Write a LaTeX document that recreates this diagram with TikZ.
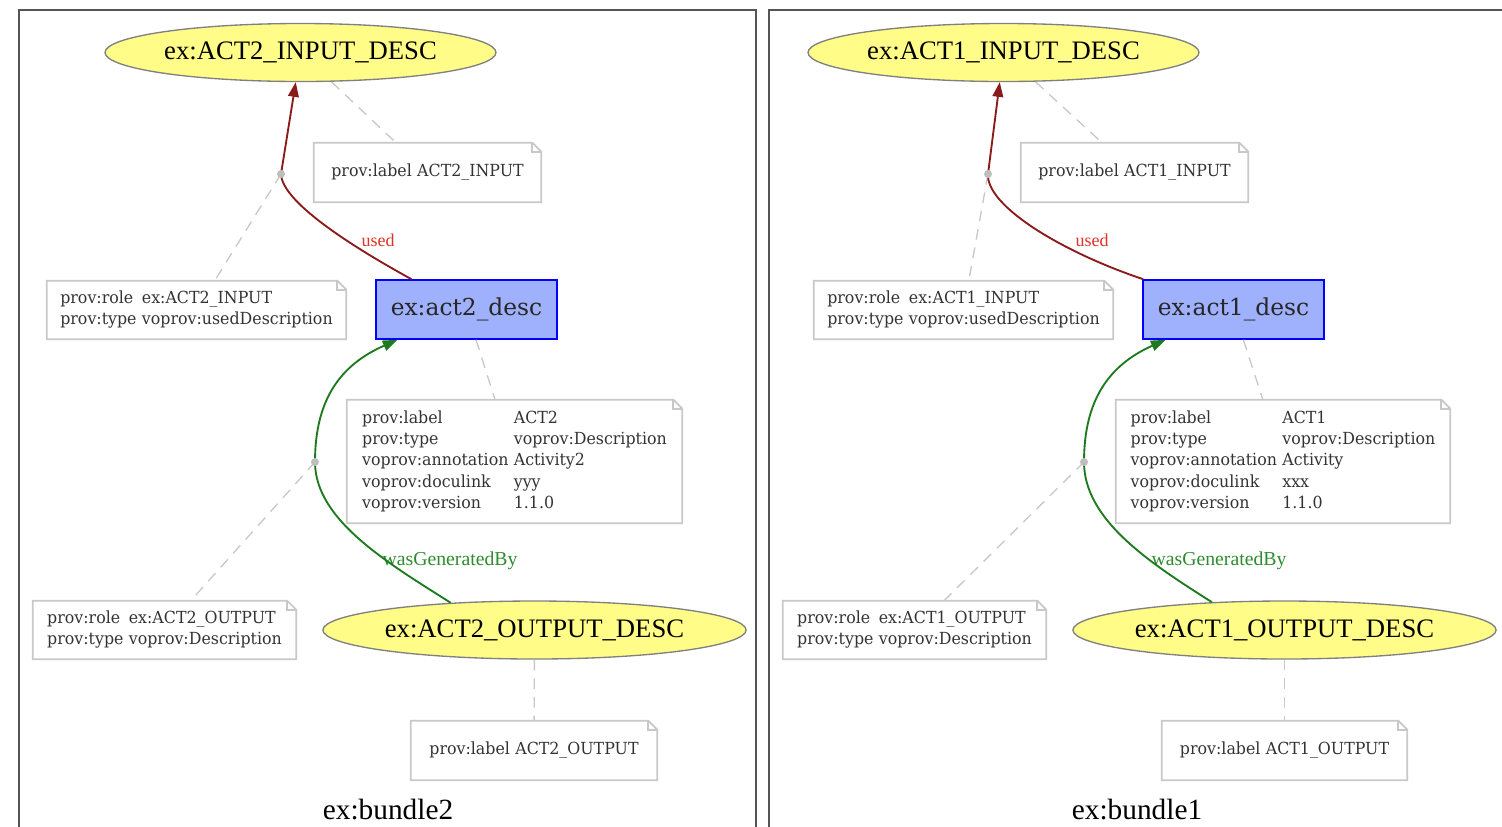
\documentclass[tikz,border=0pt]{standalone}
\usepackage{fontspec}
\setmainfont{Liberation Serif}
\newfontfamily\slabfont{DejaVu Serif}[FakeStretch=0.95]
\newfontfamily\slabwide{DejaVu Serif}
\usetikzlibrary{shapes.geometric, arrows.meta, calc}

\definecolor{entfill}{HTML}{FFFC87}
\definecolor{entline}{HTML}{808080}
\definecolor{actfill}{HTML}{9FB1FC}
\definecolor{actline}{HTML}{0000FF}
\definecolor{notetext}{HTML}{333333}
\definecolor{noteline}{HTML}{C8C8C8}
\definecolor{dashgray}{HTML}{C8C8C8}
\definecolor{dotgray}{HTML}{BEBEBE}
\definecolor{usedcol}{HTML}{8B1A1A}
\definecolor{usedlab}{HTML}{E0302A}
\definecolor{gencol}{HTML}{1E7A1E}
\definecolor{genlab}{HTML}{2E8B2E}
\definecolor{framecol}{HTML}{555555}

\tikzset{
  sz/.style 2 args={minimum width=#1*0.75pt, minimum height=#2*0.75pt},
  entity/.style={ellipse, draw=entline, fill=entfill, line width=1pt,
    inner sep=0pt, font=\fontsize{20}{24}\selectfont},
  activity/.style={rectangle, draw=actline, fill=actfill, line width=1.2pt,
    inner sep=0pt, text=black!85, font=\slabwide\fontsize{17.5}{20}\selectfont},
  annot/.style={rectangle, inner sep=0pt, text=notetext,
    font=\slabfont\fontsize{12.5}{16}\selectfont},
  noteframe/.style={draw=noteline, line width=1.3pt, line join=miter},
  annotlink/.style={draw=dashgray, line width=1pt, dash pattern=on 8pt off 6pt},
  usededge/.style={draw=usedcol, line width=1.4pt, -{Triangle[length=11pt,width=8pt]}},
  genedge/.style={draw=gencol, line width=1.4pt, -{Triangle[length=11pt,width=8pt]}},
  usedlabel/.style={text=usedlab, font=\fontsize{13.5}{16}\selectfont, inner sep=1pt},
  genlabel/.style={text=genlab, font=\fontsize{14.8}{17}\selectfont, inner sep=1pt},
  bundlelabel/.style={font=\fontsize{22}{26}\selectfont, inner sep=1pt},
  bundleframe/.style={draw=framecol, line width=1.8pt},
  waypoint/.style={fill=dotgray}
}

\newcommand{\kv}[1]{\begin{tabular}{@{}l@{\hspace{4pt}}l@{}}#1\end{tabular}}

\begin{document}
\begin{tikzpicture}[x=0.75pt, y=-0.75pt]
\useasboundingbox (0,0) rectangle (1502,826);
\clip (0,0) rectangle (1502,826);

% bundle frames
\draw[bundleframe] (19,10) rectangle (756,870);
\draw[bundleframe] (769,10) rectangle (1540,870);

% ---------------- ex:bundle2 ----------------
\node[entity, sz={391}{58}] (in2) at (300.5,52.5) {ex:ACT2\_INPUT\_DESC};
\node[annot, sz={227}{59}] (nl2) at (427.5,172.5) {\kv{prov:label & ACT2\_INPUT}};
\coordinate (u2) at (281,174);
\node[annot, sz={299}{58}] (nr2) at (196.5,310)
  {\kv{prov:role & ex:ACT2\_INPUT\\ prov:type & voprov:usedDescription}};
\node[activity, sz={181}{59}] (act2) at (466.5,309.5) {ex:act2\_desc};
\node[annot, sz={335}{123}] (nd2) at (514.5,461.5)
  {\kv{prov:label & ACT2\\ prov:type & voprov:Description\\
       voprov:annotation & Activity2\\ voprov:doculink & yyy\\ voprov:version & 1.1.0}};
\coordinate (g2) at (315,462);
\node[annot, sz={263}{58}] (no2) at (164.5,630)
  {\kv{prov:role & ex:ACT2\_OUTPUT\\ prov:type & voprov:Description}};
\node[entity, sz={419}{58}] (out2) at (534.5,630) {ex:ACT2\_OUTPUT\_DESC};
\node[annot, sz={246}{59}] (nlo2) at (534,750.5) {\kv{prov:label & ACT2\_OUTPUT}};
\node[bundlelabel] (b2) at (388,810) {ex:bundle2};

\node[usedlabel] (lu2) at (378,240) {used};
\node[genlabel] (lg2) at (450,561) {wasGeneratedBy};

% ---------------- ex:bundle1 ----------------
\node[entity, sz={391}{58}] (in1) at (1003.5,52.5) {ex:ACT1\_INPUT\_DESC};
\node[annot, sz={227}{59}] (nl1) at (1134.5,172.5) {\kv{prov:label & ACT1\_INPUT}};
\coordinate (u1) at (988,174);
\node[annot, sz={299}{58}] (nr1) at (963.5,310)
  {\kv{prov:role & ex:ACT1\_INPUT\\ prov:type & voprov:usedDescription}};
\node[activity, sz={181}{59}] (act1) at (1233.5,309.5) {ex:act1\_desc};
\node[annot, sz={334}{123}] (nd1) at (1283,461.5)
  {\kv{prov:label & ACT1\\ prov:type & voprov:Description\\
       voprov:annotation & Activity\\ voprov:doculink & xxx\\ voprov:version & 1.1.0}};
\coordinate (g1) at (1084,462);
\node[annot, sz={263}{58}] (no1) at (914.5,630)
  {\kv{prov:role & ex:ACT1\_OUTPUT\\ prov:type & voprov:Description}};
\node[entity, sz={419}{58}] (out1) at (1284.5,630) {ex:ACT1\_OUTPUT\_DESC};
\node[annot, sz={245}{59}] (nlo1) at (1284.5,750.5) {\kv{prov:label & ACT1\_OUTPUT}};
\node[bundlelabel] (b1) at (1137,810) {ex:bundle1};

\node[usedlabel] (lu1) at (1092,240) {used};
\node[genlabel] (lg1) at (1219,561) {wasGeneratedBy};

% note outlines with folded corner
\foreach \n in {nl2,nr2,nd2,no2,nlo2,nl1,nr1,nd1,no1,nlo1} {
  \draw[noteframe] (\n.north west) -- ($(\n.north east)+(-9,0)$)
    -- ($(\n.north east)+(0,9)$) -- (\n.south east) -- (\n.south west) -- cycle;
  \draw[noteframe] ($(\n.north east)+(-9,0)$) -- ($(\n.north east)+(-9,9)$)
    -- ($(\n.north east)+(0,9)$);
}

% annotation links
\foreach \a/\b in {in2/nl2,u2/nr2,act2/nd2,g2/no2,out2/nlo2,
                   in1/nl1,u1/nr1,act1/nd1,g1/no1,out1/nlo1}
  \draw[annotlink] (\a) -- (\b);

% used
\draw[usededge] (act2) .. controls (362,252) and (282,204) .. (u2) -- (in2);
\draw[usededge] (act1) .. controls (1062,252) and (986,206) .. (u1) -- (in1);

% wasGeneratedBy
\draw[genedge] (out2.162) .. controls (388,563) and (315,520) .. (g2)
  .. controls (315,400) and (340,365) .. (act2);
\draw[genedge] (out1.159) .. controls (1150,563) and (1084,520) .. (g1)
  .. controls (1084,400) and (1109,365) .. (act1);

% waypoints
\foreach \p in {u2,g2,u1,g1}
  \fill[waypoint] (\p) circle[radius=4];
\end{tikzpicture}
\end{document}
